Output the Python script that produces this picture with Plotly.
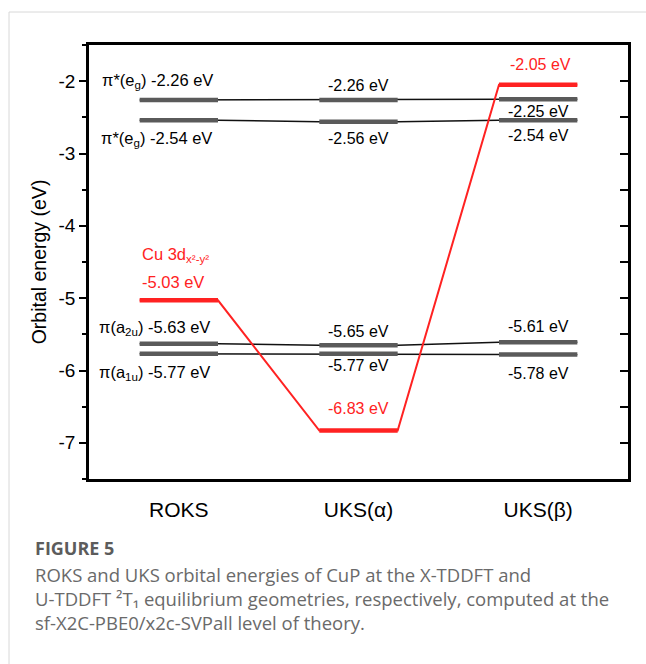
import plotly.graph_objects as go

# ---------------- data ----------------
categories = ["ROKS", "UKS(α)", "UKS(β)"]
cat_pos = [1, 2, 3]
pi_star_upper = [-2.26, -2.26, -2.25]
pi_star_lower = [-2.54, -2.56, -2.54]
pi_a2u = [-5.63, -5.65, -5.61]
pi_a1u = [-5.77, -5.77, -5.78]
cu_3d = [-5.03, -6.83, -2.05]

y_ticks = [-7, -6, -5, -4, -3, -2]
y_tick_text = ["-7", "-6", "-5", "-4", "-3", "-2"]

HALF = 0.218
GREY = "#5a5a5a"
RED = "#ff2222"
FONT = "Arial, Liberation Sans, sans-serif"

fig = go.Figure()


def add_levels(values, bar_color, conn_color, conn_width):
    cx, cy = [], []
    bx, by = [], []
    for c, v in zip(cat_pos, values):
        cx += [c - HALF, c + HALF]
        cy += [v, v]
        bx += [c - HALF, c + HALF, None]
        by += [v, v, None]
    fig.add_trace(go.Scatter(x=cx, y=cy, mode="lines",
                             line=dict(color=conn_color, width=conn_width),
                             hoverinfo="skip", showlegend=False))
    fig.add_trace(go.Scatter(x=bx, y=by, mode="lines",
                             line=dict(color=bar_color, width=4.5),
                             hoverinfo="skip", showlegend=False))


for series in (pi_star_upper, pi_star_lower, pi_a2u, pi_a1u):
    add_levels(series, GREY, "#111111", 1.5)
add_levels(cu_3d, RED, RED, 2)

# invisible trace for the right-hand axis
fig.add_trace(go.Scatter(x=[cat_pos[0]], y=[y_ticks[0]], yaxis="y2", mode="markers",
                         marker=dict(opacity=0), hoverinfo="skip", showlegend=False))

ann = []


def lab(x, y, text, yshift, color="black", xanchor="center", xshift=0, size=16):
    ann.append(dict(x=x, y=y, xref="x", yref="y", text=text, showarrow=False,
                    xanchor=xanchor, yanchor="middle", xshift=xshift, yshift=yshift,
                    font=dict(family=FONT, size=size, color=color)))


# ROKS labels
lab(cat_pos[0] - HALF, pi_star_upper[0], "π*(e<sub>g</sub>) %.2f eV" % pi_star_upper[0], 19, xanchor="left", xshift=-40, size=16.5)
lab(cat_pos[0] - HALF, pi_star_lower[0], "π*(e<sub>g</sub>) %.2f eV" % pi_star_lower[0], -19, xanchor="left", xshift=-41, size=16.5)
lab(cat_pos[0] - HALF, cu_3d[0], "Cu 3d<sub>x²-y²</sub>", 45, color=RED, xanchor="left", size=16.5)
lab(cat_pos[0] - HALF, cu_3d[0], "%.2f eV" % cu_3d[0], 18, color=RED, xanchor="left", size=16.5)
lab(cat_pos[0] - HALF, pi_a2u[0], "π(a<sub>2u</sub>) %.2f eV" % pi_a2u[0], 16, xanchor="left", xshift=-43, size=16.5)
lab(cat_pos[0] - HALF, pi_a1u[0], "π(a<sub>1u</sub>) %.2f eV" % pi_a1u[0], -19, xanchor="left", xshift=-43, size=16.5)

# UKS(alpha) labels
lab(cat_pos[1], pi_star_upper[1], "%.2f eV" % pi_star_upper[1], 14)
lab(cat_pos[1], pi_star_lower[1], "%.2f eV" % pi_star_lower[1], -17)
lab(cat_pos[1], pi_a2u[1], "%.2f eV" % pi_a2u[1], 14)
lab(cat_pos[1], pi_a1u[1], "%.2f eV" % pi_a1u[1], -12)
lab(cat_pos[1], cu_3d[1], "%.2f eV" % cu_3d[1], 22, color=RED)

# UKS(beta) labels
lab(cat_pos[2], cu_3d[2], "%.2f eV" % cu_3d[2], 20, color=RED, xshift=2)
lab(cat_pos[2], pi_star_upper[2], "%.2f eV" % pi_star_upper[2], -12)
lab(cat_pos[2], pi_star_lower[2], "%.2f eV" % pi_star_lower[2], -15)
lab(cat_pos[2], pi_a2u[2], "%.2f eV" % pi_a2u[2], 16)
lab(cat_pos[2], pi_a1u[2], "%.2f eV" % pi_a1u[2], -19)

# ---------------- caption ----------------
PL, PR, PT, PB = 89, 628, 45, 479
W, H = 646, 664


def px(xp):
    return (xp - PL) / (PR - PL)


def py(yp):
    return (PB - yp) / (PB - PT)


CAP_FONT = "Open Sans, Noto Sans, DejaVu Sans, sans-serif"
ann.append(dict(x=px(33), y=py(548), xref="paper", yref="paper", text="<b>FIGURE 5</b>",
                showarrow=False, xanchor="left", yanchor="middle",
                font=dict(family=CAP_FONT, size=18, color="#5c5c5c")))
caption_lines = [
    "ROKS and UKS orbital energies of CuP at the X-TDDFT and",
    "U-TDDFT ²T₁ equilibrium geometries, respectively, computed at the",
    "sf-X2C-PBE0/x2c-SVPall level of theory.",
]
ann.append(dict(x=px(33), y=py(560), xref="paper", yref="paper", text="<br>".join(caption_lines),
                showarrow=False, xanchor="left", yanchor="top", align="left",
                font=dict(family=CAP_FONT, size=18.5, color="#6a6a6a")))

fig.update_layout(
    width=W, height=H,
    margin=dict(l=PL, r=W - PR, t=PT, b=H - PB, autoexpand=False),
    paper_bgcolor="white", plot_bgcolor="white",
    annotations=ann,
    shapes=[dict(type="rect", xref="paper", yref="paper",
                 x0=px(9), x1=px(700), y0=py(720), y1=py(12),
                 line=dict(color="#d8d8d8", width=1), layer="below")],
    xaxis=dict(range=[0.5, 3.5], tickvals=cat_pos, ticktext=categories,
               showline=True, linecolor="black", linewidth=2.5, mirror=True,
               ticks="", showgrid=False, zeroline=False, ticklabelstandoff=10,
               automargin=False,
               tickfont=dict(family=FONT, size=21, color="black")),
    yaxis=dict(range=[-7.5, -1.5], tickvals=y_ticks, ticktext=y_tick_text,
               showline=True, linecolor="black", linewidth=2.5, mirror=True,
               ticks="outside", ticklen=7, tickwidth=2, tickcolor="black",
               minor=dict(dtick=0.5, tick0=-7, ticks="outside", ticklen=4, tickwidth=2, tickcolor="black"),
               showgrid=False, zeroline=False, automargin=False,
               tickfont=dict(family=FONT, size=19, color="black"),
               title=dict(text="Orbital energy (eV)", standoff=7,
                          font=dict(family=FONT, size=19.5, color="black"))),
    yaxis2=dict(range=[-7.5, -1.5], overlaying="y", side="right", tickvals=y_ticks,
                showticklabels=False, ticks="inside", ticklen=8, tickwidth=2, tickcolor="black",
                minor=dict(dtick=0.5, tick0=-7, ticks="inside", ticklen=8, tickwidth=2, tickcolor="black"),
                showgrid=False, zeroline=False, showline=False, automargin=False),
)

fig.write_html("out.html", config={"displayModeBar": False},
               post_script="document.body.style.margin='0';document.body.style.overflow='hidden';")
